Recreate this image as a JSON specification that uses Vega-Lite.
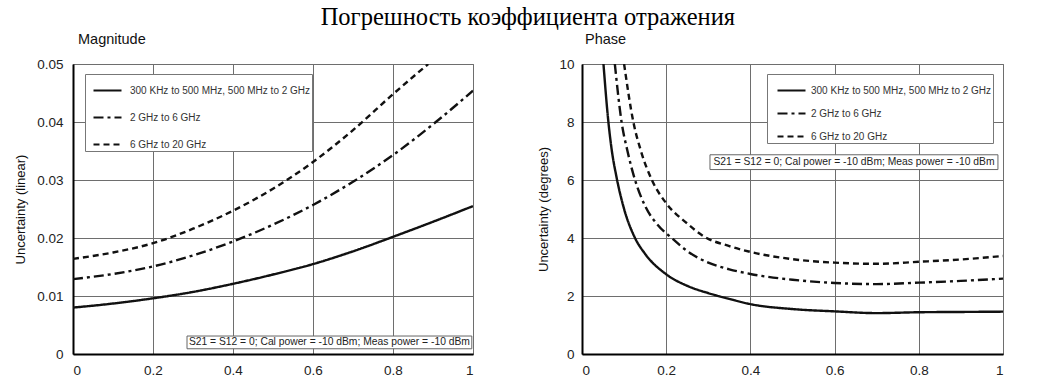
{
  "$schema": "https://vega.github.io/schema/vega-lite/v6.json",
  "background": "white",
  "padding": {"left": 14, "top": 4, "right": 10, "bottom": 5},
  "title": {"text": "Погрешность коэффициента отражения", "font": "Liberation Serif", "fontSize": 24.5, "fontWeight": "normal", "color": "black", "anchor": "middle", "offset": 1, "dx": 19},
  "spacing": 109,
  "bounds": "flush",
  "config": {
    "view": {"stroke": "#707070", "strokeWidth": 1},
    "axis": {"domainColor": "black", "domainWidth": 2, "gridColor": "#6e6e6e", "gridWidth": 1, "ticks": false, "labelFont": "Liberation Sans", "labelFontSize": 13.5, "labelColor": "#222", "titleFont": "Liberation Sans", "titleFontSize": 13, "titleFontWeight": "normal", "titleColor": "#111"},
    "title": {"font": "Liberation Sans", "fontSize": 14.5, "fontWeight": "normal", "color": "#111"}
  },
  "datasets": {
    "mag": [
      {"x": 0, "y": 0.0080, "band": "300 KHz to 500 MHz, 500 MHz to 2 GHz"},
      {"x": 0.1, "y": 0.0087, "band": "300 KHz to 500 MHz, 500 MHz to 2 GHz"},
      {"x": 0.2, "y": 0.0096, "band": "300 KHz to 500 MHz, 500 MHz to 2 GHz"},
      {"x": 0.3, "y": 0.0107, "band": "300 KHz to 500 MHz, 500 MHz to 2 GHz"},
      {"x": 0.4, "y": 0.0121, "band": "300 KHz to 500 MHz, 500 MHz to 2 GHz"},
      {"x": 0.5, "y": 0.0137, "band": "300 KHz to 500 MHz, 500 MHz to 2 GHz"},
      {"x": 0.6, "y": 0.0155, "band": "300 KHz to 500 MHz, 500 MHz to 2 GHz"},
      {"x": 0.7, "y": 0.0177, "band": "300 KHz to 500 MHz, 500 MHz to 2 GHz"},
      {"x": 0.8, "y": 0.0202, "band": "300 KHz to 500 MHz, 500 MHz to 2 GHz"},
      {"x": 0.9, "y": 0.0228, "band": "300 KHz to 500 MHz, 500 MHz to 2 GHz"},
      {"x": 1.0, "y": 0.0255, "band": "300 KHz to 500 MHz, 500 MHz to 2 GHz"},
      {"x": 0, "y": 0.0129, "band": "2 GHz to 6 GHz"},
      {"x": 0.1, "y": 0.0138, "band": "2 GHz to 6 GHz"},
      {"x": 0.2, "y": 0.0151, "band": "2 GHz to 6 GHz"},
      {"x": 0.3, "y": 0.0170, "band": "2 GHz to 6 GHz"},
      {"x": 0.4, "y": 0.0194, "band": "2 GHz to 6 GHz"},
      {"x": 0.5, "y": 0.0223, "band": "2 GHz to 6 GHz"},
      {"x": 0.6, "y": 0.0257, "band": "2 GHz to 6 GHz"},
      {"x": 0.7, "y": 0.0297, "band": "2 GHz to 6 GHz"},
      {"x": 0.8, "y": 0.0343, "band": "2 GHz to 6 GHz"},
      {"x": 0.9, "y": 0.0396, "band": "2 GHz to 6 GHz"},
      {"x": 1.0, "y": 0.0454, "band": "2 GHz to 6 GHz"},
      {"x": 0, "y": 0.0164, "band": "6 GHz to 20 GHz"},
      {"x": 0.1, "y": 0.0175, "band": "6 GHz to 20 GHz"},
      {"x": 0.2, "y": 0.0191, "band": "6 GHz to 20 GHz"},
      {"x": 0.3, "y": 0.0216, "band": "6 GHz to 20 GHz"},
      {"x": 0.4, "y": 0.0247, "band": "6 GHz to 20 GHz"},
      {"x": 0.5, "y": 0.0285, "band": "6 GHz to 20 GHz"},
      {"x": 0.6, "y": 0.0331, "band": "6 GHz to 20 GHz"},
      {"x": 0.7, "y": 0.0386, "band": "6 GHz to 20 GHz"},
      {"x": 0.8, "y": 0.0448, "band": "6 GHz to 20 GHz"},
      {"x": 0.888, "y": 0.0500, "band": "6 GHz to 20 GHz"}
    ],
    "phase": [
      {"x": 0.051, "y": 10, "band": "300 KHz to 500 MHz, 500 MHz to 2 GHz"},
      {"x": 0.062, "y": 8.1, "band": "300 KHz to 500 MHz, 500 MHz to 2 GHz"},
      {"x": 0.07, "y": 7.1, "band": "300 KHz to 500 MHz, 500 MHz to 2 GHz"},
      {"x": 0.082, "y": 6.1, "band": "300 KHz to 500 MHz, 500 MHz to 2 GHz"},
      {"x": 0.1, "y": 5.0, "band": "300 KHz to 500 MHz, 500 MHz to 2 GHz"},
      {"x": 0.126, "y": 4.0, "band": "300 KHz to 500 MHz, 500 MHz to 2 GHz"},
      {"x": 0.15, "y": 3.45, "band": "300 KHz to 500 MHz, 500 MHz to 2 GHz"},
      {"x": 0.2, "y": 2.75, "band": "300 KHz to 500 MHz, 500 MHz to 2 GHz"},
      {"x": 0.25, "y": 2.35, "band": "300 KHz to 500 MHz, 500 MHz to 2 GHz"},
      {"x": 0.3, "y": 2.1, "band": "300 KHz to 500 MHz, 500 MHz to 2 GHz"},
      {"x": 0.35, "y": 1.9, "band": "300 KHz to 500 MHz, 500 MHz to 2 GHz"},
      {"x": 0.4, "y": 1.72, "band": "300 KHz to 500 MHz, 500 MHz to 2 GHz"},
      {"x": 0.5, "y": 1.55, "band": "300 KHz to 500 MHz, 500 MHz to 2 GHz"},
      {"x": 0.6, "y": 1.47, "band": "300 KHz to 500 MHz, 500 MHz to 2 GHz"},
      {"x": 0.7, "y": 1.41, "band": "300 KHz to 500 MHz, 500 MHz to 2 GHz"},
      {"x": 0.8, "y": 1.44, "band": "300 KHz to 500 MHz, 500 MHz to 2 GHz"},
      {"x": 0.9, "y": 1.45, "band": "300 KHz to 500 MHz, 500 MHz to 2 GHz"},
      {"x": 1.0, "y": 1.46, "band": "300 KHz to 500 MHz, 500 MHz to 2 GHz"},
      {"x": 0.078, "y": 10, "band": "2 GHz to 6 GHz"},
      {"x": 0.094, "y": 8.0, "band": "2 GHz to 6 GHz"},
      {"x": 0.108, "y": 7.0, "band": "2 GHz to 6 GHz"},
      {"x": 0.126, "y": 6.0, "band": "2 GHz to 6 GHz"},
      {"x": 0.15, "y": 5.1, "band": "2 GHz to 6 GHz"},
      {"x": 0.18, "y": 4.45, "band": "2 GHz to 6 GHz"},
      {"x": 0.213, "y": 4.0, "band": "2 GHz to 6 GHz"},
      {"x": 0.25, "y": 3.55, "band": "2 GHz to 6 GHz"},
      {"x": 0.3, "y": 3.15, "band": "2 GHz to 6 GHz"},
      {"x": 0.35, "y": 2.92, "band": "2 GHz to 6 GHz"},
      {"x": 0.4, "y": 2.76, "band": "2 GHz to 6 GHz"},
      {"x": 0.5, "y": 2.56, "band": "2 GHz to 6 GHz"},
      {"x": 0.6, "y": 2.45, "band": "2 GHz to 6 GHz"},
      {"x": 0.7, "y": 2.41, "band": "2 GHz to 6 GHz"},
      {"x": 0.8, "y": 2.46, "band": "2 GHz to 6 GHz"},
      {"x": 0.9, "y": 2.52, "band": "2 GHz to 6 GHz"},
      {"x": 1.0, "y": 2.6, "band": "2 GHz to 6 GHz"},
      {"x": 0.1, "y": 10, "band": "6 GHz to 20 GHz"},
      {"x": 0.122, "y": 8.0, "band": "6 GHz to 20 GHz"},
      {"x": 0.14, "y": 7.0, "band": "6 GHz to 20 GHz"},
      {"x": 0.166, "y": 6.0, "band": "6 GHz to 20 GHz"},
      {"x": 0.2, "y": 5.2, "band": "6 GHz to 20 GHz"},
      {"x": 0.25, "y": 4.5, "band": "6 GHz to 20 GHz"},
      {"x": 0.29, "y": 4.05, "band": "6 GHz to 20 GHz"},
      {"x": 0.35, "y": 3.72, "band": "6 GHz to 20 GHz"},
      {"x": 0.4, "y": 3.52, "band": "6 GHz to 20 GHz"},
      {"x": 0.5, "y": 3.27, "band": "6 GHz to 20 GHz"},
      {"x": 0.6, "y": 3.15, "band": "6 GHz to 20 GHz"},
      {"x": 0.7, "y": 3.11, "band": "6 GHz to 20 GHz"},
      {"x": 0.8, "y": 3.18, "band": "6 GHz to 20 GHz"},
      {"x": 0.9, "y": 3.26, "band": "6 GHz to 20 GHz"},
      {"x": 1.0, "y": 3.38, "band": "6 GHz to 20 GHz"}
    ]
  },
  "resolve": {"scale": {"strokeDash": "independent"}, "legend": {"strokeDash": "independent"}},
  "hconcat": [
    {
      "width": 400,
      "height": 290,
      "title": {"text": "Magnitude", "anchor": "start", "frame": "group", "dx": 5, "offset": 10},
      "layer": [
        {
          "data": {"name": "mag"},
          "mark": {"type": "line", "color": "#111", "strokeWidth": 2.4, "interpolate": "monotone", "clip": true},
          "encoding": {
            "x": {"field": "x", "type": "quantitative", "scale": {"domain": [0, 1], "nice": false}, "axis": {"values": [0, 0.2, 0.4, 0.6, 0.8, 1], "format": "~g", "title": null, "labelPadding": 9}},
            "y": {"field": "y", "type": "quantitative", "scale": {"domain": [0, 0.05], "nice": false}, "axis": {"values": [0, 0.01, 0.02, 0.03, 0.04, 0.05], "format": "~g", "title": "Uncertainty (linear)", "labelPadding": 10, "titlePadding": 9}},
            "strokeDash": {"field": "band", "type": "nominal", "sort": null,
              "scale": {"domain": ["300 KHz to 500 MHz, 500 MHz to 2 GHz", "2 GHz to 6 GHz", "6 GHz to 20 GHz"], "range": [[1, 0], [10, 4, 3, 4], [6, 4]]},
              "legend": {"orient": "none", "legendX": 12, "legendY": 10, "title": null, "symbolType": "stroke", "symbolSize": 784, "symbolStrokeWidth": 2.2, "symbolStrokeColor": "#111", "symbolOffset": 6, "labelFont": "Liberation Sans", "labelFontSize": 10, "labelColor": "#333", "labelOffset": 7, "labelLimit": 400, "strokeColor": "#777", "fillColor": "white", "padding": 1, "rowPadding": 6}}
          }
        },
        {
          "data": {"values": [{}]},
          "mark": {"type": "rect", "fill": "white", "stroke": "#666", "strokeWidth": 1},
          "encoding": {
            "x": {"datum": 0.285}, "x2": {"datum": 0.997},
            "y": {"datum": 0.0031}, "y2": {"datum": 0.0009}
          }
        },
        {
          "data": {"values": [{}]},
          "mark": {"type": "text", "text": "S21 = S12 = 0; Cal power = -10 dBm; Meas power = -10 dBm", "font": "Liberation Sans", "fontSize": 10.3, "color": "#222", "align": "center", "baseline": "middle"},
          "encoding": {
            "x": {"datum": 0.641}, "y": {"datum": 0.002}
          }
        }
      ]
    },
    {
      "width": 421,
      "height": 290,
      "title": {"text": "Phase", "anchor": "start", "frame": "group", "dx": 3, "offset": 10},
      "layer": [
        {
          "data": {"name": "phase"},
          "mark": {"type": "line", "color": "#111", "strokeWidth": 2.4, "interpolate": "monotone", "clip": true},
          "encoding": {
            "x": {"field": "x", "type": "quantitative", "scale": {"domain": [0, 1], "nice": false}, "axis": {"values": [0, 0.2, 0.4, 0.6, 0.8, 1], "format": "~g", "title": null, "labelPadding": 9}},
            "y": {"field": "y", "type": "quantitative", "scale": {"domain": [0, 10], "nice": false}, "axis": {"values": [0, 2, 4, 6, 8, 10], "format": "d", "title": "Uncertainty (degrees)", "labelPadding": 8, "titlePadding": 8}},
            "strokeDash": {"field": "band", "type": "nominal", "sort": null,
              "scale": {"domain": ["300 KHz to 500 MHz, 500 MHz to 2 GHz", "2 GHz to 6 GHz", "6 GHz to 20 GHz"], "range": [[1, 0], [10, 4, 3, 4], [6, 4]]},
              "legend": {"orient": "none", "legendX": 185, "legendY": 10, "title": null, "symbolType": "stroke", "symbolSize": 784, "symbolStrokeWidth": 2.2, "symbolStrokeColor": "#111", "symbolOffset": 8, "labelFont": "Liberation Sans", "labelFontSize": 10, "labelColor": "#333", "labelOffset": 4, "labelLimit": 400, "strokeColor": "#777", "fillColor": "white", "padding": 1, "rowPadding": 2}}
          }
        },
        {
          "data": {"values": [{}]},
          "mark": {"type": "rect", "fill": "white", "stroke": "#666", "strokeWidth": 1},
          "encoding": {
            "x": {"datum": 0.304}, "x2": {"datum": 0.988},
            "y": {"datum": 6.87}, "y2": {"datum": 6.36}
          }
        },
        {
          "data": {"values": [{}]},
          "mark": {"type": "text", "text": "S21 = S12 = 0; Cal power = -10 dBm; Meas power = -10 dBm", "font": "Liberation Sans", "fontSize": 10.3, "color": "#222", "align": "center", "baseline": "middle"},
          "encoding": {
            "x": {"datum": 0.646}, "y": {"datum": 6.615}
          }
        }
      ]
    }
  ]
}
